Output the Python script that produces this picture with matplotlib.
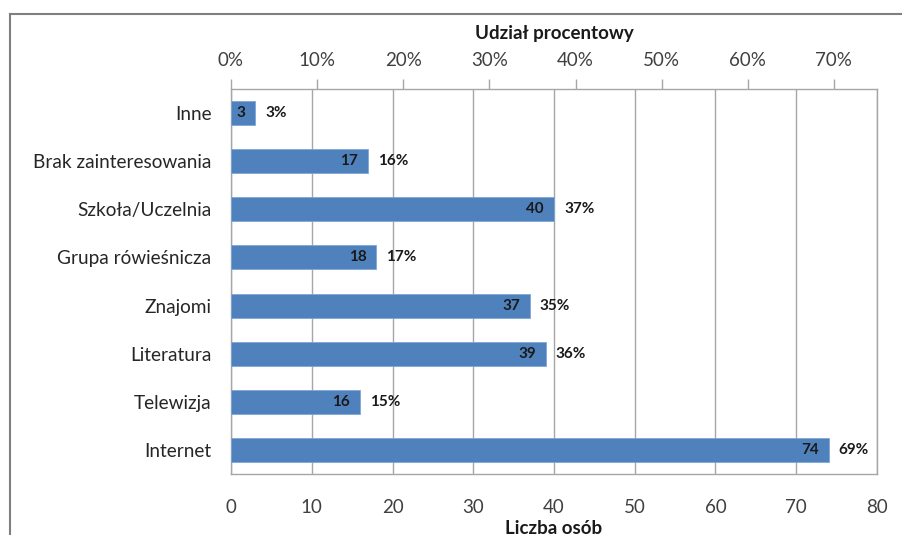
import matplotlib
matplotlib.use("Agg")
import matplotlib.pyplot as plt
from matplotlib.lines import Line2D
from matplotlib.ticker import FuncFormatter

categories = ["Inne", "Brak zainteresowania", "Szkoła/Uczelnia", "Grupa rówieśnicza",
              "Znajomi", "Literatura", "Telewizja", "Internet"]
counts = [3, 17, 40, 18, 37, 39, 16, 74]
percents = [3, 16, 37, 17, 35, 36, 15, 69]
count_ticks = [0, 10, 20, 30, 40, 50, 60, 70, 80]
pct_ticks = [0, 10, 20, 30, 40, 50, 60, 70]

plt.rcParams['font.family'] = ['Lato', 'DejaVu Sans']

W, H = 903, 535
fig = plt.figure(figsize=(W / 100, H / 100), dpi=100)
ax = fig.add_axes([231 / W, 1 - 474 / H, (877 - 231) / W, (474 - 89) / H])

bar_color = "#4F81BD"
grid_color = "#A6A6A6"
ypos = list(range(len(categories)))
ax.barh(ypos, counts, height=0.5, color=bar_color, edgecolor="#7EA6D8", linewidth=0.6, zorder=3)

ax.set_xlim(0, 80)
ax.set_ylim(len(categories) - 0.5, -0.5)
ax.set_xticks(count_ticks)
ax.set_yticks(ypos)
ax.set_yticklabels(categories, fontsize=13.7, color="#262626")
ax.tick_params(axis='x', length=0, pad=18, labelsize=13.5, labelcolor="#404040")
ax.tick_params(axis='y', length=0, pad=14)
ax.grid(axis='x', color=grid_color, linewidth=1, zorder=0)
for s in ax.spines.values():
    s.set_color(grid_color)
    s.set_linewidth(1)

for y, c, p in zip(ypos, counts, percents):
    ax.annotate(str(c), (c, y), xytext=(-10, 0), textcoords='offset pixels',
                ha='right', va='center', fontsize=11, fontweight='bold', color="#1a1a1a", zorder=4)
    ax.annotate(f"{p}%", (c, y), xytext=(10, 0), textcoords='offset pixels',
                ha='left', va='center', fontsize=11, fontweight='bold', color="#1a1a1a", zorder=4)

ax2 = ax.twiny()
ax2.set_xlim(0, 75)
ax2.set_xticks(pct_ticks)
ax2.xaxis.set_major_formatter(FuncFormatter(lambda v, _: f"{int(v)}%"))
ax2.tick_params(axis='x', direction='out', length=7, width=1, color=grid_color,
                pad=7.5, labelsize=13.5, labelcolor="#404040")
for s in ax2.spines.values():
    s.set_visible(False)

cx = (231 + 877) / 2 / W
fig.text(cx, 1 - 34 / H, "Udział procentowy", ha='center', va='center',
         fontsize=13.5, fontweight='bold', color="#1a1a1a")
fig.text(cx, 1 - 528 / H, "Liczba osób", ha='center', va='center',
         fontsize=13.5, fontweight='bold', color="#1a1a1a")

# outer frame
fig.add_artist(Line2D([10 / W, 1.0], [1 - 14 / H, 1 - 14 / H], color="#7f7f7f", linewidth=1.5))
fig.add_artist(Line2D([10 / W, 10 / W], [1 - 14 / H, 0.0], color="#7f7f7f", linewidth=1.5))

fig.savefig("out.png", dpi=100)
